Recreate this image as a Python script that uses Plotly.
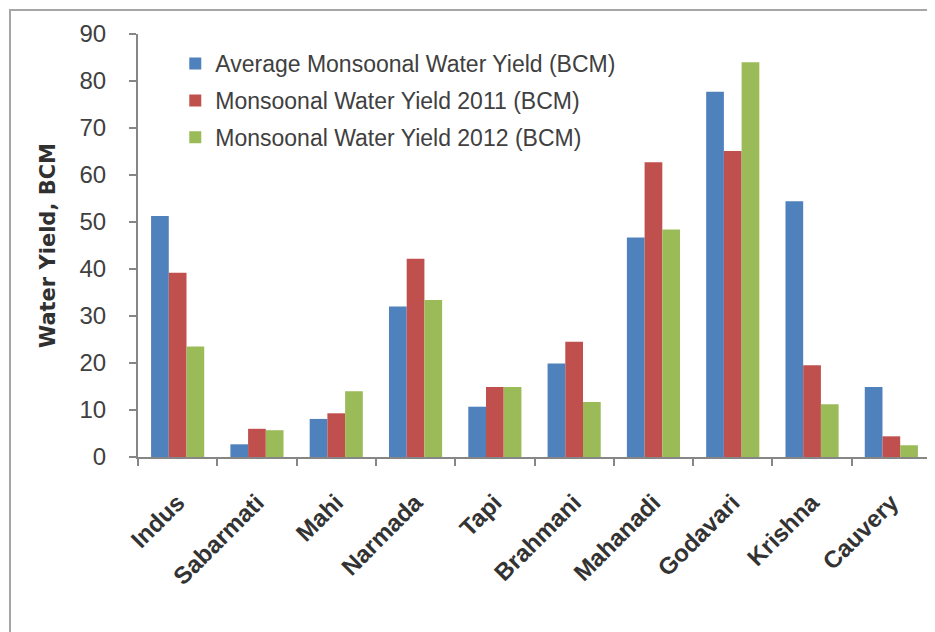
import plotly.graph_objects as go

rivers = ["Indus", "Sabarmati", "Mahi", "Narmada", "Tapi", "Brahmani",
          "Mahanadi", "Godavari", "Krishna", "Cauvery"]
avg_yield = [51.3, 2.7, 8.1, 32.0, 10.7, 19.9, 46.7, 77.7, 54.4, 14.9]
yield_2011 = [39.2, 6.0, 9.3, 42.2, 14.9, 24.5, 62.7, 65.1, 19.5, 4.4]
yield_2012 = [23.5, 5.7, 14.0, 33.4, 14.9, 11.7, 48.4, 84.0, 11.2, 2.5]

series_names = ["Average Monsoonal Water Yield (BCM)",
                "Monsoonal Water Yield 2011 (BCM)",
                "Monsoonal Water Yield 2012 (BCM)"]
colors = ["#4F81BD", "#C0504D", "#9BBB59"]

fig = go.Figure()
for i, (name, vals, col) in enumerate(zip(series_names, [avg_yield, yield_2011, yield_2012], colors)):
    fig.add_trace(go.Bar(x=rivers, y=vals, name=name, marker_color=col,
                         marker_line_width=0, legendgroup=f"g{i}"))

font_family = "Liberation Sans, Arial, sans-serif"
fig.update_layout(
    width=927, height=624,
    margin=dict(l=130, r=4, t=26, b=175),
    paper_bgcolor="white", plot_bgcolor="white",
    barmode="group", bargap=0.33, bargroupgap=0,
    font=dict(family=font_family, color="#404040"),
    legend=dict(x=0.047, y=0.981, xanchor="left", yanchor="top",
                bgcolor="rgba(0,0,0,0)", font=dict(size=23, color="#404040"),
                tracegroupgap=4, itemwidth=30),
    xaxis=dict(showline=True, linecolor="#868686", linewidth=2,
               ticks="outside", tickson="boundaries", ticklen=7, tickcolor="#868686",
               tickwidth=2, tickangle=-45, ticklabelstandoff=20,
               tickfont=dict(size=24, color="#333333", weight="bold"),
               showgrid=False),
    yaxis=dict(range=[0, 90], dtick=10, showline=True, linecolor="#868686", linewidth=2,
               ticks="outside", ticklen=7, tickcolor="#868686", tickwidth=2,
               ticklabelstandoff=18,
               tickfont=dict(size=24, color="#404040"), showgrid=False, zeroline=False,
               title=dict(text="<b>Water Yield, BCM</b>", standoff=18,
                          font=dict(size=21, family="DejaVu Sans, Verdana, sans-serif",
                                    color="#303030"))),
    showlegend=True,
)

# outer chart border
fig.add_shape(type="rect", xref="paper", yref="paper",
              x0=-0.1614, x1=0.999, y0=-0.5, y1=1.0567,
              line=dict(color="#A6A6A6", width=2), fillcolor="rgba(0,0,0,0)", layer="below")

fig.write_html("out.html")
